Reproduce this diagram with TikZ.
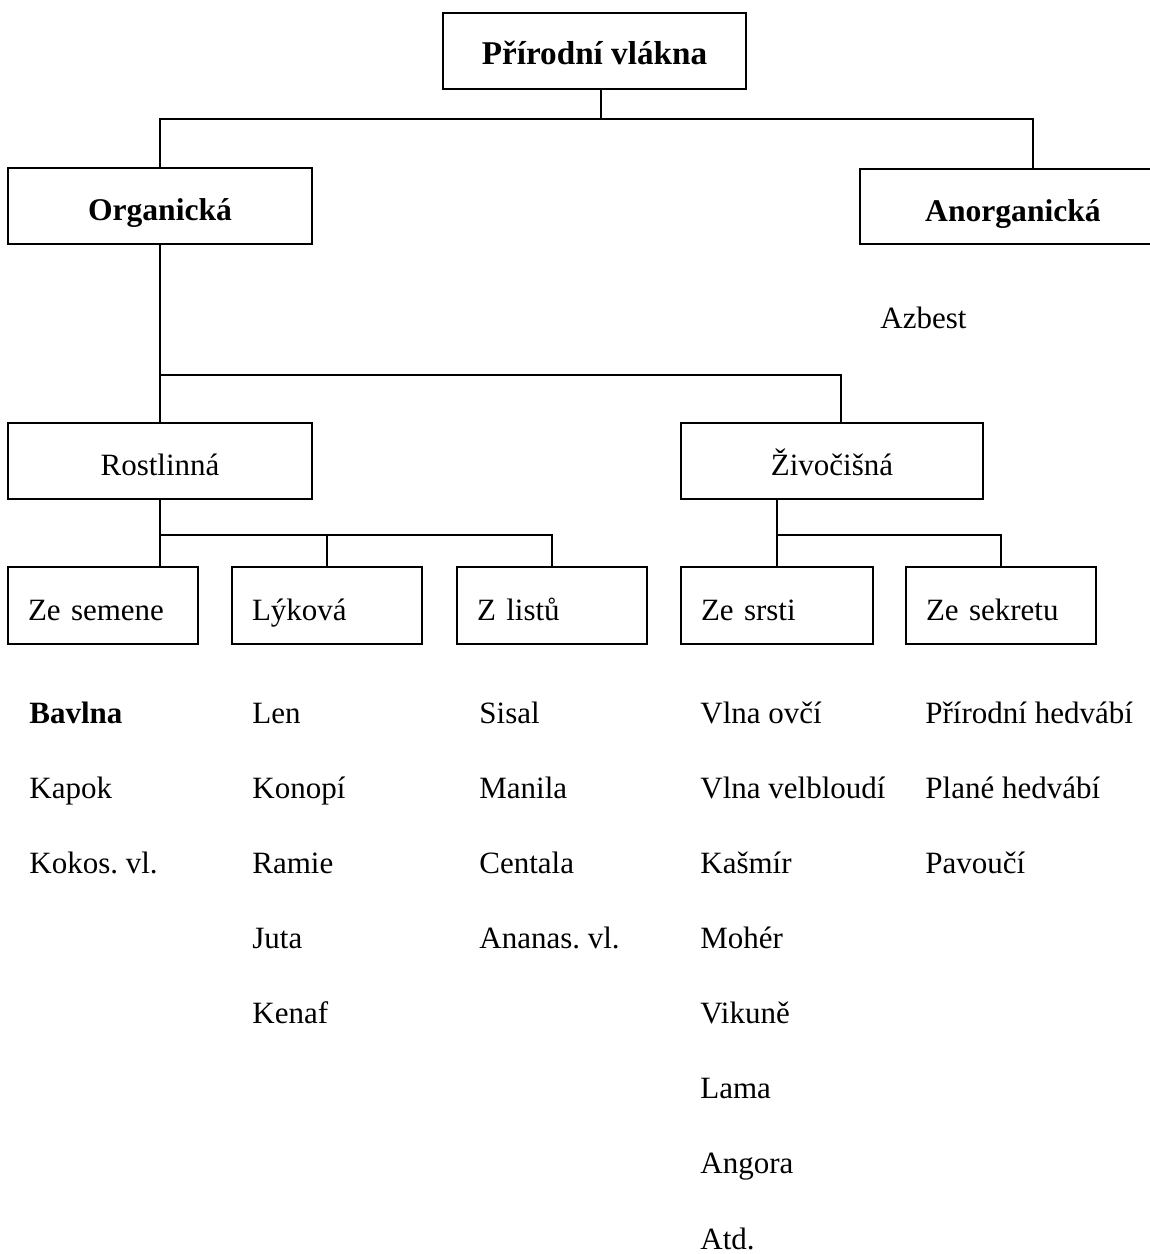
\documentclass[tikz,border=0pt]{standalone}
\usepackage{fontspec}
\setmainfont{Liberation Serif}
\usetikzlibrary{calc}
\frenchspacing
\begin{document}
\begin{tikzpicture}[x=0.5pt,y=-0.5pt,
  every node/.style={font=\fontsize{15.5}{18}\selectfont},
  box/.style={draw,line width=1pt,rectangle,inner sep=0pt,minimum height=38pt,text height=1.65em,text depth=0.2em},
  cbox/.style={box,align=center},
  lbox/.style={box,minimum height=38.5pt,text width=75pt,inner xsep=10pt,align=left},
  item/.style={anchor=base west,inner sep=0pt},
  conn/.style={line width=1pt}]
\useasboundingbox (0,0) rectangle (1150,1254);
% boxes
\node[cbox,minimum width=151.5pt,font=\fontsize{16.6}{19}\selectfont\bfseries,text height=1.5em] (top) at (594.5,51) {Přírodní vlákna};
\node[cbox,minimum width=152pt,font=\fontsize{15.8}{18}\selectfont\bfseries] (org) at (160,206) {Organická};
\node[cbox,minimum width=153pt,minimum height=37.5pt,font=\fontsize{15.8}{18}\selectfont\bfseries] (anorg) at (1013,206.5) {Anorganická};
\node[cbox,minimum width=152pt] (rost) at (160,461) {Rostlinná};
\node[cbox,minimum width=151pt] (ziv) at (832,461) {Živočišná};
\node[lbox] (sem) at (103,605.5) {Ze semene};
\node[lbox] (lyk) at (327,605.5) {Lýková};
\node[lbox] (zlis) at (552,605.5) {Z listů};
\node[lbox,text width=76pt] (srs) at (777,605.5) {Ze srsti};
\node[lbox] (sek) at (1001,605.5) {Ze sekretu};
% connectors
\coordinate (tj) at (601,119);
\coordinate (oj) at (160,375);
\coordinate (rj) at (160,535);
\coordinate (zj) at (777,535);
\draw[conn] ([xshift=3.25pt]top.south) -- (tj);
\draw[conn] (org.north) |- (tj) -| ([xshift=10pt]anorg.north);
\draw[conn] (org.south) -- (rost.north);
\draw[conn] (oj) -| ([xshift=4.5pt]ziv.north);
\draw[conn] (rost.south) -- (sem.north -| rost.south);
\draw[conn] (rj) -| (lyk.north);
\draw[conn] (rj) -| (zlis.north);
\draw[conn] ([xshift=-27.5pt]ziv.south) -- (srs.north);
\draw[conn] (zj) -| (sek.north);
% Azbest
\node[item] (azb) at (880,328) {Azbest};
% lists
\node[item,font=\fontsize{15.5}{18}\selectfont\bfseries] (a1) at (29,723) {Bavlna};
\node[item] (a2) at (29,798) {Kapok};
\node[item] (a3) at (29,873) {Kokos. vl.};
\node[item] (b1) at (252,723) {Len};
\node[item] (b2) at (252,798) {Konopí};
\node[item] (b3) at (252,873) {Ramie};
\node[item] (b4) at (252,948) {Juta};
\node[item] (b5) at (252,1023) {Kenaf};
\node[item] (c1) at (479,723) {Sisal};
\node[item] (c2) at (479,798) {Manila};
\node[item] (c3) at (479,873) {Centala};
\node[item] (c4) at (479,948) {Ananas. vl.};
\node[item] (d1) at (700,723) {Vlna ovčí};
\node[item] (d2) at (700,798) {Vlna velbloudí};
\node[item] (d3) at (700,873) {Kašmír};
\node[item] (d4) at (700,948) {Mohér};
\node[item] (d5) at (700,1023) {Vikuně};
\node[item] (d6) at (700,1098) {Lama};
\node[item] (d7) at (700,1173) {Angora};
\node[item] (d8) at (700,1249) {Atd.};
\node[item] (e1) at (925,723) {Přírodní hedvábí};
\node[item] (e2) at (925,798) {Plané hedvábí};
\node[item] (e3) at (925,873) {Pavoučí};
\end{tikzpicture}
\end{document}
